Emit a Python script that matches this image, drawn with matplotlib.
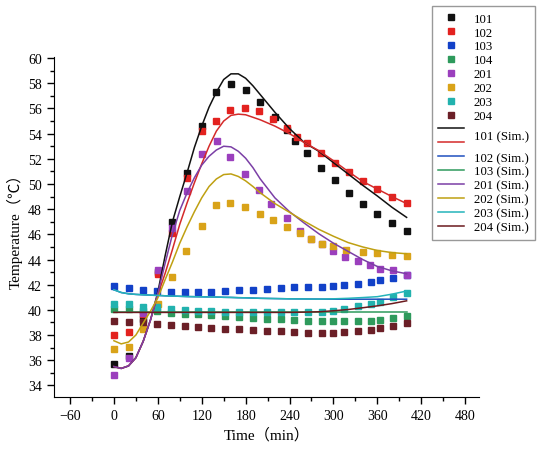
import matplotlib

matplotlib.use("Agg")
from matplotlib import pyplot as plt
from matplotlib import transforms
from matplotlib.ticker import MultipleLocator

plt.rcParams["font.family"] = ["Liberation Serif", "Noto Sans CJK SC", "DejaVu Sans"]

# measured series (time in min, temperature in C)
t_101 = [0, 20, 40, 60, 80, 100, 120, 140, 160, 180, 200, 220, 237, 248, 264, 283, 302, 321, 340, 360, 380, 400]
y_101 = [35.7, 36.3, 39.3, 43.0, 46.97, 50.9, 54.6, 57.3, 57.96, 57.5, 56.5, 55.3, 54.3, 53.4, 52.45, 51.3,
         50.3, 49.3, 48.4, 47.6, 46.9, 46.25]
t_102 = [0, 20, 40, 60, 80, 100, 120, 139, 159, 179, 198, 218, 236, 250, 264, 283, 302, 321, 341, 360, 380, 400]
y_102 = [38.02, 38.24, 39.7, 42.87, 46.1, 50.5, 54.2, 55.0, 55.9, 56.0, 55.76, 55.2, 54.46, 53.75, 53.25, 52.5,
         51.7, 50.95, 50.2, 49.6, 49.0, 48.5]
t_low = [0, 20, 40, 59, 78, 97, 115, 133, 152, 171, 190, 209, 228, 246, 265, 284, 300, 315, 333, 351, 363, 381, 400]
y_103 = [41.86, 41.76, 41.62, 41.54, 41.46, 41.44, 41.44, 41.46, 41.5, 41.55, 41.62, 41.68, 41.73, 41.78, 41.81,
         41.83, 41.89, 41.94, 42.05, 42.18, 42.34, 42.53, 42.76]
y_104 = [40.06, 40.06, 39.9, 39.9, 39.75, 39.7, 39.65, 39.56, 39.49, 39.43, 39.38, 39.24, 39.24, 39.16, 39.11,
         39.11, 39.08, 39.08, 39.08, 39.13, 39.19, 39.35, 39.5]
t_201 = [0, 20, 40, 60, 80, 100, 120, 141, 159, 179, 198, 215, 236, 254, 270, 285, 300, 316, 333, 350, 363, 381, 400]
y_201 = [34.85, 36.2, 39.75, 43.18, 46.52, 49.44, 52.4, 53.4, 52.14, 50.8, 49.56, 48.43, 47.27, 46.25, 45.6,
         45.2, 44.64, 44.2, 43.85, 43.53, 43.27, 43.13, 42.79]
t_202 = [0, 20, 40, 60, 80, 99, 120, 139, 159, 179, 200, 217, 237, 254, 270, 285, 300, 317, 340, 359, 380, 400]
y_202 = [36.86, 37.04, 38.47, 40.48, 42.6, 44.67, 46.7, 48.3, 48.48, 48.21, 47.63, 47.15, 46.57, 46.12, 45.65,
         45.25, 45.07, 44.72, 44.59, 44.51, 44.38, 44.32]
y_203 = [40.48, 40.43, 40.22, 40.22, 40.09, 40.0, 39.9, 39.9, 39.83, 39.83, 39.83, 39.8, 39.8, 39.8, 39.82,
         39.87, 39.9, 40.09, 40.27, 40.48, 40.62, 41.0, 41.36]
y_204 = [39.11, 39.05, 39.0, 38.9, 38.82, 38.71, 38.66, 38.6, 38.52, 38.47, 38.42, 38.36, 38.32, 38.24, 38.18,
         38.16, 38.16, 38.24, 38.32, 38.42, 38.58, 38.76, 38.95]

# simulated curves
t_sim = [0, 10, 20, 30, 40, 50, 60, 70, 80, 90, 100, 110, 120, 130, 140, 150, 160, 170, 180, 190, 200,
         220, 240, 260, 280, 300, 320, 340, 360, 380, 400]
sim_101 = [35.5, 35.35, 35.55, 36.2, 37.5, 39.2, 41.4, 44.3, 47.0, 49.0, 50.9, 52.9, 54.6, 56.1, 57.3, 58.3,
           58.75, 58.75, 58.4, 57.8, 57.1, 55.7, 54.4, 53.3, 52.6, 51.7, 50.8, 49.9, 49.05, 48.15, 47.35]
sim_102 = [35.5, 35.35, 35.55, 36.2, 37.5, 39.2, 41.2, 42.9, 44.8, 46.8, 48.5, 50.1, 51.6, 53.0, 54.2, 55.0,
           55.45, 55.55, 55.5, 55.3, 55.1, 54.6, 54.0, 53.3, 52.65, 51.85, 51.0, 50.2, 49.6, 49.0, 48.45]
sim_103 = [41.6, 41.38, 41.28, 41.23, 41.2, 41.17, 41.15, 41.12, 41.1, 41.08, 41.06, 41.05, 41.04, 41.03, 41.02,
           41.0, 40.99, 40.97, 40.96, 40.94, 40.92, 40.9, 40.88, 40.87, 40.86, 40.85, 40.85, 40.85, 40.85, 40.85,
           40.85]
sim_104 = [39.8] * 31
sim_201 = [35.5, 35.35, 35.55, 36.2, 37.5, 39.2, 41.3, 43.7, 46.0, 47.9, 49.3, 50.5, 51.5, 52.2, 52.7, 53.0,
           52.95, 52.6, 52.05, 51.3, 50.4, 48.9, 47.8, 46.9, 46.05, 45.3, 44.65, 44.0, 43.45, 43.1, 42.87]
sim_202 = [37.55, 37.3, 37.45, 38.0, 38.95, 39.9, 40.95, 42.4, 43.8, 45.3, 46.6, 47.8, 48.9, 49.8, 50.4, 50.75,
           50.8, 50.6, 50.25, 49.8, 49.3, 48.45, 47.75, 47.05, 46.4, 45.85, 45.35, 45.0, 44.72, 44.55, 44.46]
sim_203 = [41.6, 41.38, 41.28, 41.23, 41.2, 41.17, 41.15, 41.12, 41.1, 41.08, 41.06, 41.05, 41.04, 41.03, 41.02,
           41.0, 40.99, 40.97, 40.96, 40.94, 40.92, 40.9, 40.88, 40.87, 40.86, 40.88, 40.92, 40.98, 41.05, 41.25,
           41.5]
sim_204 = [39.8] * 21 + [39.8, 39.8, 39.82, 39.85, 39.93, 40.03, 40.17, 40.32, 40.5, 40.72]

labels = ["101", "102", "103", "104", "201", "202", "203", "204"]
marker_colors = ["#111111", "#e3221f", "#1241c8", "#2e9a5c", "#9b3fbd", "#d9a319", "#22b2ae", "#6b1f27"]
line_colors = ["#111111", "#d42a2a", "#1f4fbf", "#2e9a5c", "#7b3fa6", "#bfa012", "#25b4ba", "#6b1a1e"]
# the source legend has one label too few: "101 (Sim.)" sits over the first two lines
sim_labels = ["101 (Sim.)", " ", "102 (Sim.)", "103 (Sim.)", "201 (Sim.)", "202 (Sim.)", "203 (Sim.)", "204 (Sim.)"]


def main():
    measured = [(t_101, y_101), (t_102, y_102), (t_low, y_103), (t_low, y_104),
                (t_201, y_201), (t_202, y_202), (t_low, y_203), (t_low, y_204)]
    simulated = [sim_101, sim_102, sim_103, sim_104, sim_201, sim_202, sim_203, sim_204]

    fig = plt.figure(figsize=(5.5, 4.52), dpi=100)
    ax = fig.add_axes([0.098, 0.12, 0.773, 0.752])

    handles = []
    for (t, y), color in zip(measured, marker_colors):
        h, = ax.plot(t, y, linestyle="none", marker="s", markersize=5, color=color)
        handles.append(h)
    for values, color in zip(simulated, line_colors):
        h, = ax.plot(t_sim, values, color=color, linewidth=1.1)
        handles.append(h)

    ax.set_xlim(-82, 499)
    ax.set_ylim(33.1, 60.1)
    ax.xaxis.set_major_locator(MultipleLocator(60))
    ax.xaxis.set_minor_locator(MultipleLocator(30))
    ax.yaxis.set_major_locator(MultipleLocator(2))
    ax.yaxis.set_minor_locator(MultipleLocator(1))
    ax.spines["top"].set_visible(False)
    ax.spines["right"].set_visible(False)
    ax.tick_params(which="major", direction="out", length=5, width=1, labelsize=10)
    ax.tick_params(which="minor", direction="out", length=3, width=1)
    ax.set_xlabel("Time（min）", fontsize=11, labelpad=4)
    ax.set_ylabel("Temperature（℃）", fontsize=11, labelpad=4)

    legend = fig.legend(handles=handles, labels=labels + sim_labels,
                        loc="upper left", bbox_to_anchor=(0.785, 0.984), borderaxespad=0,
                        fontsize=9.2, frameon=True, fancybox=False, edgecolor="#999999", framealpha=1,
                        handlelength=2.0, labelspacing=0.15, borderpad=0.5, handletextpad=0.8)

    # move "101 (Sim.)" down between its two lines, as in the source figure
    fig.canvas.draw()
    first_sim = legend.get_texts()[8]
    box = first_sim.get_window_extent()
    first_sim.set_text(" ")
    fig.text(box.x0, box.y0 - 6.5, "101 (Sim.)", fontsize=9.2, ha="left", va="bottom",
             transform=transforms.IdentityTransform(), zorder=10)

    fig.savefig("out.png", dpi=100)
    plt.close(fig)


if __name__ == "__main__":
    main()
